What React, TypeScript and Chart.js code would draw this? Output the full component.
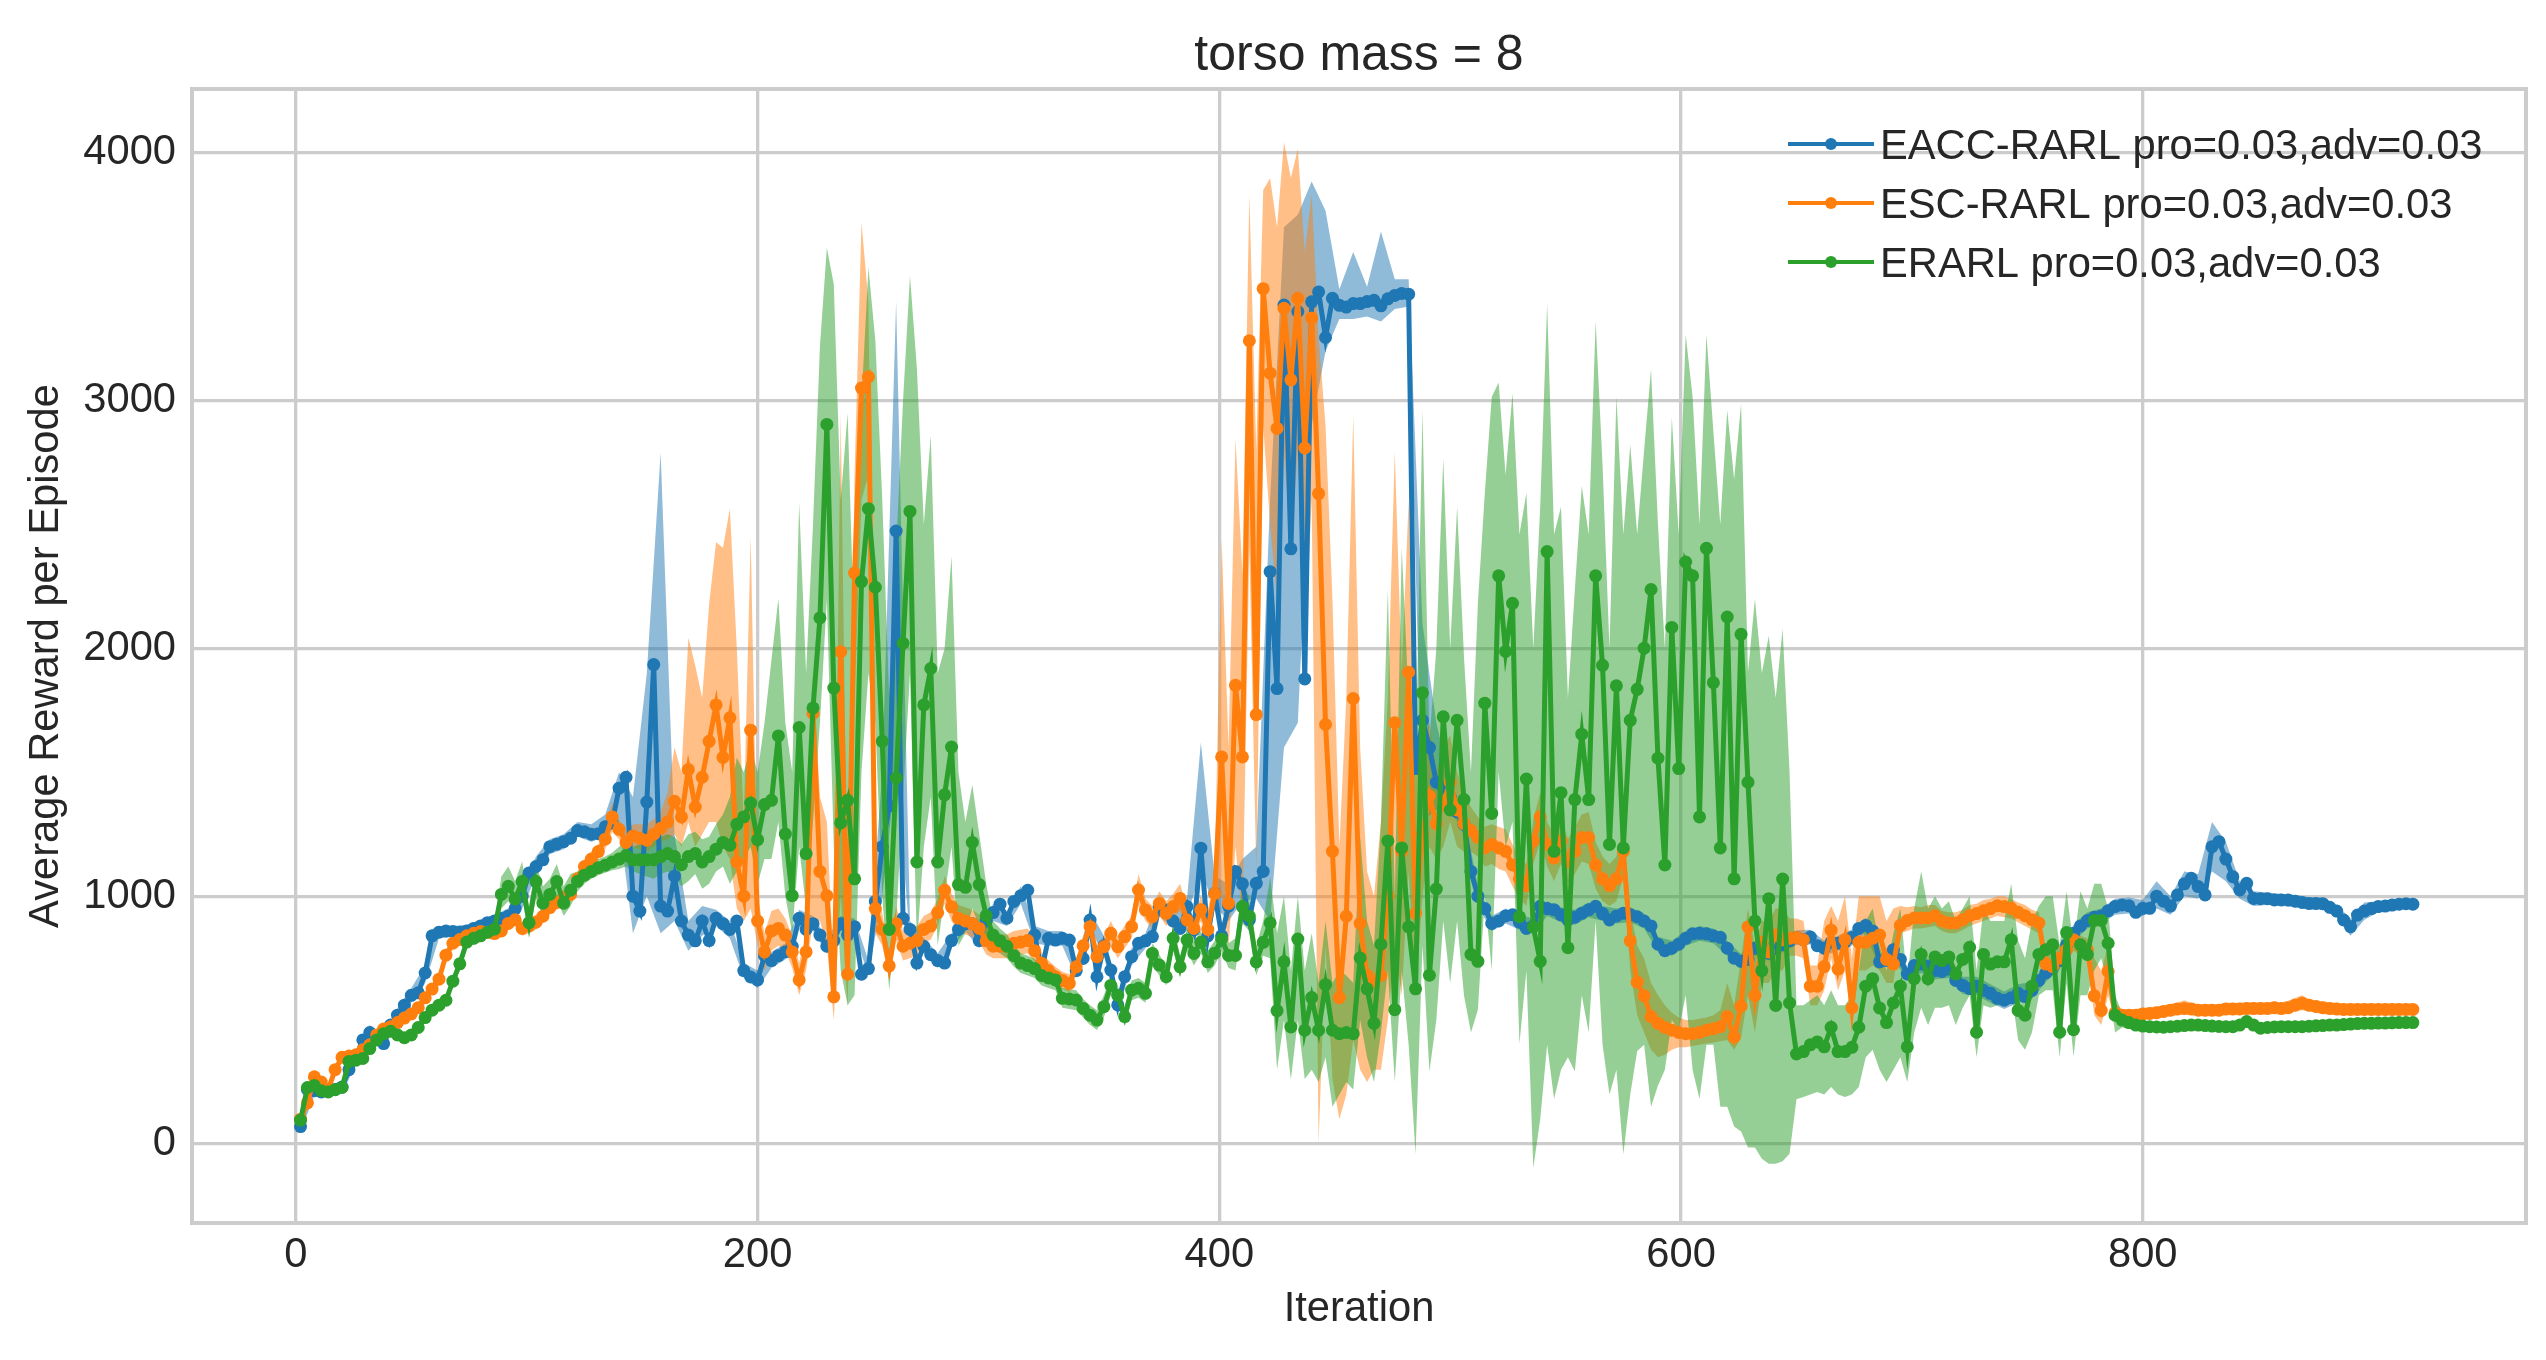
import React, { useEffect, useRef } from 'react';
import { Chart, registerables } from 'chart.js';

Chart.register(...registerables);

// Iterations: mean curves and the orange/green spread every 3 iterations, blue spread every 6
const ITER_START = 2;
const MEAN_STEP = 3;
const BAND_STEP = 6;

const xTicks = [0, 200, 400, 600, 800];
const yTicks = [0, 1000, 2000, 3000, 4000];

const seriesLabels = [
  'EACC-RARL pro=0.03,adv=0.03',
  'ESC-RARL pro=0.03,adv=0.03',
  'ERARL pro=0.03,adv=0.03',
];

// EACC-RARL mean reward
const eaccMean = [
  70, 220, 215, 210, 215, 220, 230, 300, 350, 420,
  450, 430, 405, 480, 520, 560, 600, 610, 690, 840,
  855, 860, 858, 855, 860, 870, 880, 893, 900, 910,
  920, 950, 1000, 1094, 1120, 1147, 1200, 1210, 1220, 1234,
  1265, 1260, 1250, 1252, 1280, 1296, 1436, 1480, 1000, 940,
  1380, 1935, 960, 940, 1081, 900, 843, 820, 900, 821,
  911, 889, 866, 900, 700, 674, 662, 760, 740, 760,
  775, 798, 911, 866, 889, 843, 798, 821, 889, 843,
  877, 685, 708, 979, 1200, 1364, 2474, 911, 866, 730,
  798, 764, 740, 730, 821, 866, 889, 889, 821, 900,
  934, 968, 911, 979, 1002, 1024, 843, 700, 830, 823,
  830, 823, 700, 749, 904, 675, 800, 702, 561, 675,
  756, 810, 820, 837, 958, 944, 900, 870, 958, 864,
  1194, 840, 1012, 840, 960, 1100, 1050, 904, 1052, 1100,
  2310, 1838, 3386, 2402, 3360, 1877, 3399, 3439, 3255, 3413,
  3385, 3378, 3392, 3392, 3400, 3405, 3383, 3411, 3425, 3433,
  3430, 1515, 1710, 1600, 1460, 1440, 1400, 1340, 1290, 1100,
  1000, 950, 890, 900, 920, 925, 895, 870, 880, 959,
  950, 945, 925, 904, 915, 931, 945, 959, 930, 904,
  920, 931, 925, 917, 900, 880, 806, 780, 790, 806,
  830, 848, 850, 848, 840, 834, 790, 750, 737, 745,
  790, 810, 770, 790, 804, 820, 833, 824, 835, 800,
  790, 814, 810, 815, 833, 870, 882, 860, 735, 740,
  784, 745, 686, 720, 726, 716, 700, 696, 706, 660,
  640, 627, 637, 620, 608, 588, 580, 590, 608, 595,
  620, 660, 690, 710, 740, 804, 850, 880, 902, 915,
  920, 941, 958, 965, 961, 935, 951, 951, 1000, 980,
  960, 1005, 1050, 1072, 1039, 1005, 1200, 1220, 1150, 1079,
  1025, 1052, 991, 990, 990, 985, 985, 985, 980, 975,
  971, 971, 970, 955, 940, 904, 877, 924, 940, 950,
  958, 960, 964, 968, 970, 968,
];

// ESC-RARL mean reward
const escMean = [
  100, 166, 271, 250, 220, 300, 350, 355, 360, 380,
  400, 440, 464, 473, 490, 508, 525, 550, 590, 625,
  665, 762, 810, 825, 840, 850, 858, 855, 849, 860,
  890, 905, 870, 880, 895, 919, 954, 975, 995, 1007,
  1070, 1120, 1150, 1180, 1230, 1320, 1270, 1217, 1243, 1234,
  1226, 1250, 1274, 1300, 1383, 1320, 1511, 1360, 1480, 1625,
  1772, 1560, 1720, 1138, 1000, 1670, 900, 775, 860, 870,
  843, 775, 662, 775, 1738, 1100, 1002, 594, 1987, 685,
  2304, 3051, 3096, 950, 866, 719, 889, 798, 810, 821,
  866, 880, 934, 1024, 957, 911, 900, 889, 870, 820,
  798, 798, 798, 810, 815, 821, 780, 729, 700, 675,
  660, 648, 715, 800, 877, 756, 796, 850, 796, 837,
  877, 1025, 944, 917, 971, 931, 958, 991, 904, 870,
  945, 866, 1011, 1562, 971, 1851, 1562, 3242, 1733, 3452,
  3111, 2888, 3373, 3084, 3413, 2809, 3334, 2625, 1693, 1181,
  591, 919, 1798, 890, 681, 653, 680, 1001, 1700, 1181,
  1904, 931, 1250, 1404, 1293, 1376, 1460, 1348, 1293, 1265,
  1237, 1195, 1209, 1195, 1181, 1126, 1070, 1043, 1223, 1320,
  1209, 1154, 1223, 1140, 1181, 1237, 1237, 1126, 1070, 1043,
  1070, 1181, 820, 653, 598, 514, 487, 470, 459, 450,
  445, 445, 450, 459, 465, 473, 514, 431, 556, 876,
  600, 814, 775, 843, 824, 830, 833, 824, 637, 637,
  716, 863, 706, 824, 549, 814, 814, 830, 843, 745,
  726, 882, 902, 912, 912, 912, 921, 900, 892, 892,
  905, 921, 930, 941, 950, 961, 958, 951, 935, 921,
  905, 892, 726, 716, 750, 784, 824, 800, 784, 598,
  539, 696, 529, 520, 520, 520, 525, 527, 530, 535,
  540, 545, 547, 545, 540, 540, 540, 540, 545, 545,
  545, 547, 547, 547, 547, 550, 547, 550, 560, 568,
  560, 555, 550, 547, 545, 543, 543, 543, 543, 543,
  543, 543, 543, 543, 543, 543,
];

// ERARL mean reward
const erarlMean = [
  96, 228, 236, 215, 210, 219, 228, 333, 338, 345,
  385, 420, 445, 455, 440, 429, 440, 470, 510, 540,
  560, 580, 657, 727, 815, 830, 840, 855, 867, 1007,
  1040, 989, 1059, 893, 1059, 972, 1007, 1059, 972, 1024,
  1060, 1085, 1100, 1115, 1125, 1138, 1150, 1164, 1147, 1147,
  1147, 1147, 1160, 1172, 1160, 1127, 1160, 1172, 1138, 1160,
  1190, 1217, 1206, 1290, 1320, 1376, 1228, 1370, 1387, 1647,
  1251, 1002, 1681, 1172, 1760, 2123, 2904, 1840, 1296, 1387,
  1070, 2270, 2564, 2247, 1625, 866, 1477, 2021, 2553, 1138,
  1772, 1919, 1138, 1409, 1602, 1047, 1036, 1217, 1047, 922,
  843, 820, 798, 760, 730, 720, 708, 680, 670, 662,
  588, 585, 581, 547, 520, 500, 554, 640, 600, 514,
  621, 628, 608, 769, 722, 675, 830, 715, 823, 769,
  814, 735, 770, 827, 761, 761, 958, 919, 735, 814,
  892, 538, 735, 472, 827, 459, 591, 459, 643, 459,
  445, 450, 445, 751, 626, 487, 806, 1223, 542, 1195,
  876, 626, 1821, 681, 1029, 1724, 1348, 1710, 1390, 765,
  737, 1779, 1334, 2293, 1988, 2182, 917, 1473, 876, 737,
  2391, 1181, 1418, 792, 1390, 1654, 1390, 2293, 1932, 1209,
  1849, 1195, 1710, 1835, 2001, 2238, 1557, 1126, 2085, 1515,
  2349, 2293, 1320, 2404, 1862, 1195, 2127, 1070, 2057, 1460,
  900, 700, 990, 559, 1069, 569, 363, 373, 400, 412,
  392, 471, 373, 373, 390, 471, 637, 667, 549, 490,
  569, 637, 392, 667, 765, 667, 755, 740, 755, 686,
  745, 794, 451, 765, 726, 735, 735, 824, 539, 520,
  637, 765, 784, 804, 451, 853, 461, 804, 765, 902,
  902, 810, 520, 500, 490, 480, 476, 473, 472, 471,
  473, 475, 478, 480, 480, 478, 476, 474, 473, 473,
  480, 494, 480, 467, 470, 472, 473, 473, 473, 473,
  475, 477, 478, 480, 480, 482, 484, 486, 487, 487,
  488, 488, 489, 490, 490, 490,
];

// EACC-RARL spread (lower / upper edge), every 6 iterations
const eaccLow = [
  50, 195, 195, 205, 320, 420, 380, 490, 570, 650,
  830, 835, 835, 855, 875, 890, 950, 1080, 1170, 1190,
  1240, 1220, 1240, 1300, 850, 1000, 850, 900, 780, 840,
  880, 830, 670, 630, 710, 745, 880, 860, 770, 860,
  850, 680, 1000, 1500, 830, 770, 710, 790, 860, 790,
  900, 880, 970, 810, 800, 800, 670, 870, 760, 530,
  720, 790, 920, 870, 920, 1100, 960, 900, 980, 990,
  900, 1600, 1700, 2900, 3200, 3330, 3330, 3340, 3320, 3370,
  3380, 1300, 1350, 1350, 1250, 960, 860, 890, 865, 850,
  920, 895, 885, 915, 900, 890, 895, 870, 776, 760,
  800, 820, 810, 760, 707, 760, 740, 774, 803, 805,
  760, 780, 800, 850, 705, 754, 656, 690, 665, 670,
  605, 600, 570, 545, 570, 585, 655, 705, 815, 870,
  890, 925, 930, 920, 950, 925, 1000, 990, 1100, 1060,
  990, 960, 965, 960, 955, 945, 945, 915, 840, 905,
  935, 940, 950,
];
const eaccHigh = [
  90, 235, 235, 255, 380, 480, 430, 550, 630, 720,
  880, 880, 885, 905, 925, 950, 1050, 1160, 1230, 1250,
  1300, 1290, 1330, 1500, 1400, 1900, 2790, 1250, 900, 960,
  945, 900, 730, 700, 775, 810, 945, 920, 830, 920,
  910, 740, 1500, 3400, 900, 830, 770, 850, 920, 850,
  970, 940, 1040, 880, 860, 860, 730, 940, 840, 600,
  790, 850, 1000, 930, 990, 1620, 1080, 1050, 1150, 1200,
  2600, 3700, 3750, 3885, 3767, 3450, 3600, 3460, 3683, 3490,
  3490, 2100, 1700, 1460, 1330, 1040, 920, 950, 925, 910,
  980, 955, 945, 975, 960, 950, 955, 930, 836, 820,
  860, 880, 870, 820, 767, 820, 800, 834, 863, 865,
  820, 840, 866, 914, 765, 814, 716, 760, 735, 740,
  675, 675, 645, 615, 645, 655, 725, 775, 885, 935,
  950, 990, 995, 985, 1060, 1000, 1100, 1090, 1300, 1220,
  1060, 1020, 1015, 1010, 1005, 997, 995, 965, 910, 975,
  980, 988, 990,
];

// ESC-RARL spread, every 3 iterations (same grid as the means)
const escLow = [
  80, 146, 250, 230, 200, 280, 330, 335, 340, 360,
  380, 420, 444, 453, 470, 488, 505, 530, 570, 605,
  640, 740, 785, 800, 815, 825, 835, 830, 825, 835,
  865, 880, 840, 850, 865, 890, 925, 945, 965, 980,
  1040, 1090, 1120, 1150, 1190, 1260, 1230, 1180, 1200, 1190,
  1180, 1200, 1220, 1230, 1250, 1200, 1300, 1200, 1250, 1300,
  1300, 1200, 1150, 950, 900, 950, 800, 700, 780, 800,
  780, 710, 600, 700, 900, 900, 800, 500, 1000, 550,
  1800, 2600, 2700, 850, 800, 660, 820, 740, 750, 760,
  810, 825, 880, 970, 900, 855, 845, 835, 815, 765,
  750, 750, 750, 760, 765, 770, 735, 685, 660, 635,
  625, 612, 680, 760, 830, 715, 750, 800, 750, 790,
  830, 960, 900, 870, 920, 880, 910, 940, 860, 825,
  900, 800, 950, 1000, 800, 1200, 900, 2400, 1100, 2900,
  2500, 2200, 2800, 2400, 2800, 2000, 2600, 0, 800, 262,
  100, 200, 420, 300, 250, 300, 300, 500, 800, 600,
  1100, 600, 1000, 1200, 1150, 1200, 1300, 1200, 1180, 1180,
  1160, 1120, 1130, 1110, 1100, 1040, 990, 960, 1130, 1220,
  1120, 1060, 1130, 1050, 1090, 1140, 1130, 1030, 980, 960,
  980, 1080, 700, 520, 450, 380, 350, 360, 380, 390,
  390, 395, 400, 405, 410, 415, 420, 380, 430, 600,
  450, 650, 650, 700, 700, 760, 760, 750, 560, 560,
  620, 750, 620, 700, 480, 700, 700, 720, 700, 650,
  650, 850, 860, 870, 870, 875, 880, 860, 850, 850,
  865, 880, 890, 900, 910, 920, 915, 910, 895, 880,
  865, 850, 680, 680, 710, 740, 780, 760, 740, 520,
  480, 600, 490, 495, 495, 497, 500, 502, 505, 510,
  515, 520, 522, 520, 515, 515, 515, 515, 520, 520,
  520, 522, 522, 522, 522, 525, 522, 525, 535, 540,
  535, 530, 525, 522, 520, 518, 518, 518, 518, 518,
  518, 518, 518, 518, 518, 518,
];
const escHigh = [
  120, 186, 292, 270, 240, 320, 370, 375, 380, 400,
  420, 460, 484, 493, 510, 528, 545, 570, 610, 645,
  690, 785, 835, 850, 865, 875, 880, 880, 875, 885,
  915, 930, 900, 910, 925, 950, 985, 1005, 1025, 1035,
  1100, 1150, 1180, 1210, 1270, 1380, 1310, 1260, 1290, 1290,
  1290, 1310, 1340, 1420, 1600, 1500, 2043, 1930, 1800, 2180,
  2429, 2406, 2564, 1998, 1300, 2451, 1000, 850, 940, 950,
  910, 840, 730, 850, 1900, 1400, 1300, 700, 2949, 900,
  2700, 3719, 3400, 1100, 930, 780, 960, 860, 870, 880,
  920, 935, 990, 1080, 1010, 965, 955, 945, 925, 875,
  845, 845, 845, 860, 865, 870, 825, 775, 740, 715,
  695, 685, 750, 840, 920, 795, 840, 900, 840, 880,
  920, 1090, 990, 960, 1020, 980, 1010, 1050, 950, 915,
  1000, 940, 1100, 2441, 1600, 2848, 2300, 3832, 2800, 3850,
  3898, 3700, 4043, 3900, 4016, 3600, 3832, 3255, 2900, 2200,
  1200, 1800, 2940, 1600, 1100, 1000, 1300, 1800, 2794, 1900,
  2600, 1500, 1600, 1700, 1500, 1600, 1650, 1500, 1420, 1360,
  1320, 1280, 1290, 1280, 1270, 1210, 1150, 1130, 1310, 1420,
  1300, 1250, 1320, 1230, 1280, 1330, 1340, 1220, 1160, 1130,
  1160, 1280, 950, 800, 750, 650, 600, 560, 530, 510,
  500, 500, 505, 510, 520, 540, 650, 560, 750, 950,
  800, 900, 900, 950, 950, 910, 910, 900, 720, 720,
  900, 960, 900, 1000, 750, 1000, 1000, 1000, 1000, 900,
  950, 960, 955, 960, 955, 965, 965, 940, 935, 935,
  945, 965, 970, 985, 990, 1000, 1000, 990, 975, 965,
  945, 935, 780, 760, 800, 830, 870, 840, 830, 750,
  700, 800, 570, 545, 545, 545, 550, 552, 555, 560,
  565, 570, 580, 570, 565, 565, 565, 565, 570, 570,
  570, 572, 572, 572, 572, 575, 572, 578, 590, 600,
  585, 580, 575, 572, 570, 568, 568, 568, 568, 568,
  568, 568, 568, 568, 568, 568,
];

// ERARL spread, every 3 iterations
const erarlLow = [
  80, 210, 215, 200, 195, 205, 210, 315, 320, 328,
  365, 400, 425, 432, 420, 410, 420, 450, 490, 520,
  540, 560, 635, 700, 790, 805, 815, 830, 840, 950,
  980, 930, 990, 850, 990, 920, 950, 990, 920, 960,
  1020, 1050, 1070, 1085, 1095, 1105, 1110, 1120, 1100, 1090,
  1080, 1070, 1090, 1100, 1080, 1040, 1060, 1090, 1030, 1050,
  1100, 1120, 1050, 1100, 1150, 1200, 1050, 1150, 1150, 1300,
  1000, 850, 1200, 950, 1300, 1700, 2200, 1200, 700, 560,
  600, 1500, 1900, 1700, 1000, 620, 900, 1400, 1900, 800,
  1200, 1400, 800, 1000, 1200, 800, 850, 950, 880, 800,
  790, 770, 750, 715, 690, 680, 670, 640, 630, 620,
  550, 545, 540, 510, 480, 460, 510, 600, 560, 475,
  580, 590, 570, 720, 680, 640, 780, 675, 780, 720,
  770, 690, 720, 780, 710, 700, 890, 860, 680, 760,
  750, 300, 500, 260, 500, 262, 300, 250, 350, 150,
  200, 250, 220, 500, 350, 250, 450, 700, 250, 700,
  400, -42, 800, 292, 500, 900, 650, 900, 598, 450,
  542, 1000, 700, 1500, 1200, 1300, 403, 700, -97, 100,
  400, 181, 300, 350, 292, 600, 450, 900, 400, 200,
  300, -42, 200, 375, 400, 150, 236, 300, 500, 459,
  600, 300, 181, 400, 400, 150, 150, 70, 50, -14,
  -14, -60, -80, -80, -70, -40, 180, 190, 200, 210,
  200, 230, 200, 190, 200, 230, 350, 380, 300, 250,
  300, 350, 250, 450, 550, 480, 550, 550, 560, 480,
  550, 600, 350, 560, 550, 560, 560, 620, 420, 380,
  450, 600, 620, 620, 350, 650, 353, 600, 600, 700,
  750, 650, 450, 470, 465, 456, 455, 452, 452, 451,
  453, 455, 458, 460, 460, 458, 456, 454, 453, 453,
  460, 474, 460, 447, 450, 452, 453, 453, 453, 453,
  455, 457, 458, 460, 460, 462, 464, 466, 467, 467,
  468, 468, 469, 470, 470, 470,
];
const erarlHigh = [
  115, 248, 256, 232, 226, 236, 248, 352, 356, 365,
  405, 440, 465, 478, 462, 450, 460, 492, 530, 562,
  582, 602, 680, 752, 840, 855, 866, 880, 895, 1080,
  1120, 1060, 1140, 960, 1130, 1040, 1070, 1130, 1040, 1090,
  1100, 1120, 1135, 1150, 1160, 1175, 1200, 1220, 1200, 1210,
  1210, 1230, 1240, 1250, 1240, 1210, 1250, 1260, 1230, 1240,
  1290, 1330, 1400, 1560, 1500, 1600, 1500, 1700, 1953, 2202,
  1700, 1500, 2587, 1900, 2500, 3220, 3617, 3470, 2600, 2949,
  2000, 3000, 3538, 3243, 2600, 1800, 2400, 3000, 3504, 3130,
  2500, 2858, 1900, 2000, 2372, 1500, 1300, 1450, 1250, 1050,
  900, 870, 845, 805, 770, 760, 748, 720, 710, 705,
  630, 625, 620, 585, 560, 540, 600, 680, 640, 555,
  660, 670, 650, 810, 765, 715, 880, 760, 870, 815,
  860, 780, 820, 880, 810, 830, 1040, 1000, 800, 900,
  1076, 850, 1000, 700, 1000, 700, 850, 650, 900, 650,
  700, 680, 650, 1237, 900, 800, 1300, 2238, 1000, 2405,
  1800, 1500, 2961, 1626, 2000, 2766, 2000, 2572, 1960, 1500,
  2182, 2627, 3016, 3072, 2700, 3030, 2460, 2627, 2000, 2572,
  3392, 2460, 2572, 1800, 2238, 2655, 2460, 3322, 2738, 2000,
  3016, 2460, 2822, 2460, 2800, 3127, 2500, 2000, 2933, 2460,
  3267, 3016, 2500, 3267, 2877, 2500, 2961, 2683, 2988, 1904,
  2200, 1900, 2050, 1800, 2078, 1500, 560, 560, 580, 600,
  560, 620, 560, 560, 600, 700, 900, 950, 800, 700,
  850, 950, 650, 950, 1100, 950, 1000, 950, 980, 900,
  950, 1000, 700, 950, 900, 900, 900, 1050, 820, 750,
  900, 960, 1000, 1000, 800, 1020, 800, 1020, 950, 1050,
  1050, 950, 600, 530, 515, 505, 498, 494, 492, 491,
  493, 495, 498, 500, 500, 498, 496, 494, 493, 493,
  500, 514, 500, 487, 490, 492, 493, 493, 493, 493,
  495, 497, 498, 500, 500, 502, 504, 506, 507, 507,
  508, 508, 509, 510, 510, 510,
];

const COLORS = ['#1f77b4', '#ff7f0e', '#2ca02c'];
const BAND_COLORS = ['rgba(31,119,180,0.5)', 'rgba(255,127,14,0.5)', 'rgba(44,160,44,0.5)'];
const TEXT = '#262626';
const GRID = '#cccccc';
const FONT = "'Liberation Sans', Arial, sans-serif";
const FS = 41.7;

const meanIterations = eaccMean.map((_, k) => ITER_START + MEAN_STEP * k);
const bandIterations = eaccLow.map((_, i) => ITER_START + BAND_STEP * i);

const pts = (xs: number[], ys: number[]) => ys.map((y, i) => ({ x: xs[i], y }));

const TorsoMassChart: React.FC = () => {
  const chartRef = useRef<HTMLCanvasElement>(null);
  const chartInstance = useRef<Chart | null>(null);

  useEffect(() => {
    if (!chartRef.current) return;
    if (chartInstance.current) chartInstance.current.destroy();
    const ctx = chartRef.current.getContext('2d');
    if (!ctx) return;

    const means = [eaccMean, escMean, erarlMean];
    const bands = [
      { xs: bandIterations, low: eaccLow, high: eaccHigh },
      { xs: meanIterations, low: escLow, high: escHigh },
      { xs: meanIterations, low: erarlLow, high: erarlHigh },
    ];

    const bandSets: any[] = [];
    bands.forEach((b, s) => {
      // lower edge (invisible), then upper edge filled down to it
      bandSets.push({
        data: pts(b.xs, b.low),
        borderColor: 'rgba(0,0,0,0)',
        borderWidth: 1,
        pointRadius: 0,
        fill: false,
        order: 30 - s * 10,
      });
      bandSets.push({
        data: pts(b.xs, b.high),
        borderColor: 'rgba(0,0,0,0)',
        borderWidth: 1,
        pointRadius: 0,
        backgroundColor: BAND_COLORS[s],
        fill: '-1',
        order: 30 - s * 10,
      });
    });

    const lineSets = means.map((m, s) => ({
      label: seriesLabels[s],
      data: pts(meanIterations, m),
      borderColor: COLORS[s],
      backgroundColor: COLORS[s],
      borderWidth: 5,
      pointRadius: 6.5,
      pointBorderWidth: 0,
      pointBackgroundColor: COLORS[s],
      tension: 0,
      fill: false,
      order: 3 - s,
    }));

    // frame around the plot area, like the matplotlib spines
    const framePlugin = {
      id: 'frame',
      beforeDatasetsDraw(chart: Chart) {
        const { ctx: c, chartArea: a } = chart;
        c.save();
        c.strokeStyle = GRID;
        c.lineWidth = 4;
        c.strokeRect(a.left, a.top, a.right - a.left, a.bottom - a.top);
        c.restore();
      },
    };

    const titleLegendPlugin = {
      id: 'titleLegend',
      afterDraw(chart: Chart) {
        const { ctx: c, chartArea: a } = chart;
        c.save();
        c.fillStyle = TEXT;
        c.font = `50px ${FONT}`;
        c.textAlign = 'center';
        c.textBaseline = 'alphabetic';
        c.fillText('torso mass = 8', (a.left + a.right) / 2, 70);

        c.font = `${FS}px ${FONT}`;
        c.textAlign = 'left';
        seriesLabels.forEach((lab, i) => {
          const y = 144 + i * 59;
          c.strokeStyle = COLORS[i];
          c.lineWidth = 4;
          c.beginPath();
          c.moveTo(1788, y);
          c.lineTo(1874, y);
          c.stroke();
          c.fillStyle = COLORS[i];
          c.beginPath();
          c.arc(1831, y, 6, 0, Math.PI * 2);
          c.fill();
          c.fillStyle = TEXT;
          c.fillText(lab, 1880, y + 15);
        });
        c.restore();
      },
    };

    chartInstance.current = new Chart(ctx, {
      type: 'line',
      data: { datasets: [...bandSets, ...lineSets] },
      options: {
        responsive: false,
        animation: false,
        devicePixelRatio: 1,
        layout: { padding: { left: 0, top: 89, right: 20, bottom: 0 } },
        plugins: {
          legend: { display: false },
          tooltip: { enabled: false },
        },
        scales: {
          x: {
            type: 'linear',
            min: -45,
            max: 966,
            afterBuildTicks: (scale: any) => {
              scale.ticks = xTicks.map(v => ({ value: v }));
            },
            afterFit: (scale: any) => {
              scale.height = 137;
            },
            ticks: {
              color: TEXT,
              font: { family: FONT, size: FS },
              padding: 7,
              maxRotation: 0,
              callback: (v: any) => String(v),
            },
            grid: { color: GRID, lineWidth: 3.3, drawTicks: false },
            border: { display: false },
            title: {
              display: true,
              text: 'Iteration',
              color: TEXT,
              font: { family: FONT, size: FS },
              padding: { top: 0, bottom: 25 },
            },
          },
          y: {
            type: 'linear',
            min: -319,
            max: 4258,
            afterBuildTicks: (scale: any) => {
              scale.ticks = yTicks.map(v => ({ value: v }));
            },
            afterFit: (scale: any) => {
              scale.width = 192;
            },
            ticks: {
              color: TEXT,
              font: { family: FONT, size: FS },
              padding: 16,
              callback: (v: any) => String(v),
            },
            grid: { color: GRID, lineWidth: 3.3, drawTicks: false },
            border: { display: false },
            title: {
              display: true,
              text: 'Average Reward per Episode',
              color: TEXT,
              font: { family: FONT, size: FS },
              padding: { top: 21, bottom: 0 },
            },
          },
        },
      },
      plugins: [framePlugin, titleLegendPlugin],
    });

    return () => {
      if (chartInstance.current) {
        chartInstance.current.destroy();
        chartInstance.current = null;
      }
    };
  }, []);

  return (
    <div style={{ position: 'fixed', left: 0, top: 0, width: 2546, height: 1360, background: '#fff' }}>
      <canvas ref={chartRef} width={2546} height={1360} style={{ display: 'block' }}></canvas>
    </div>
  );
};

export default function App() {
  return <TorsoMassChart />;
}
